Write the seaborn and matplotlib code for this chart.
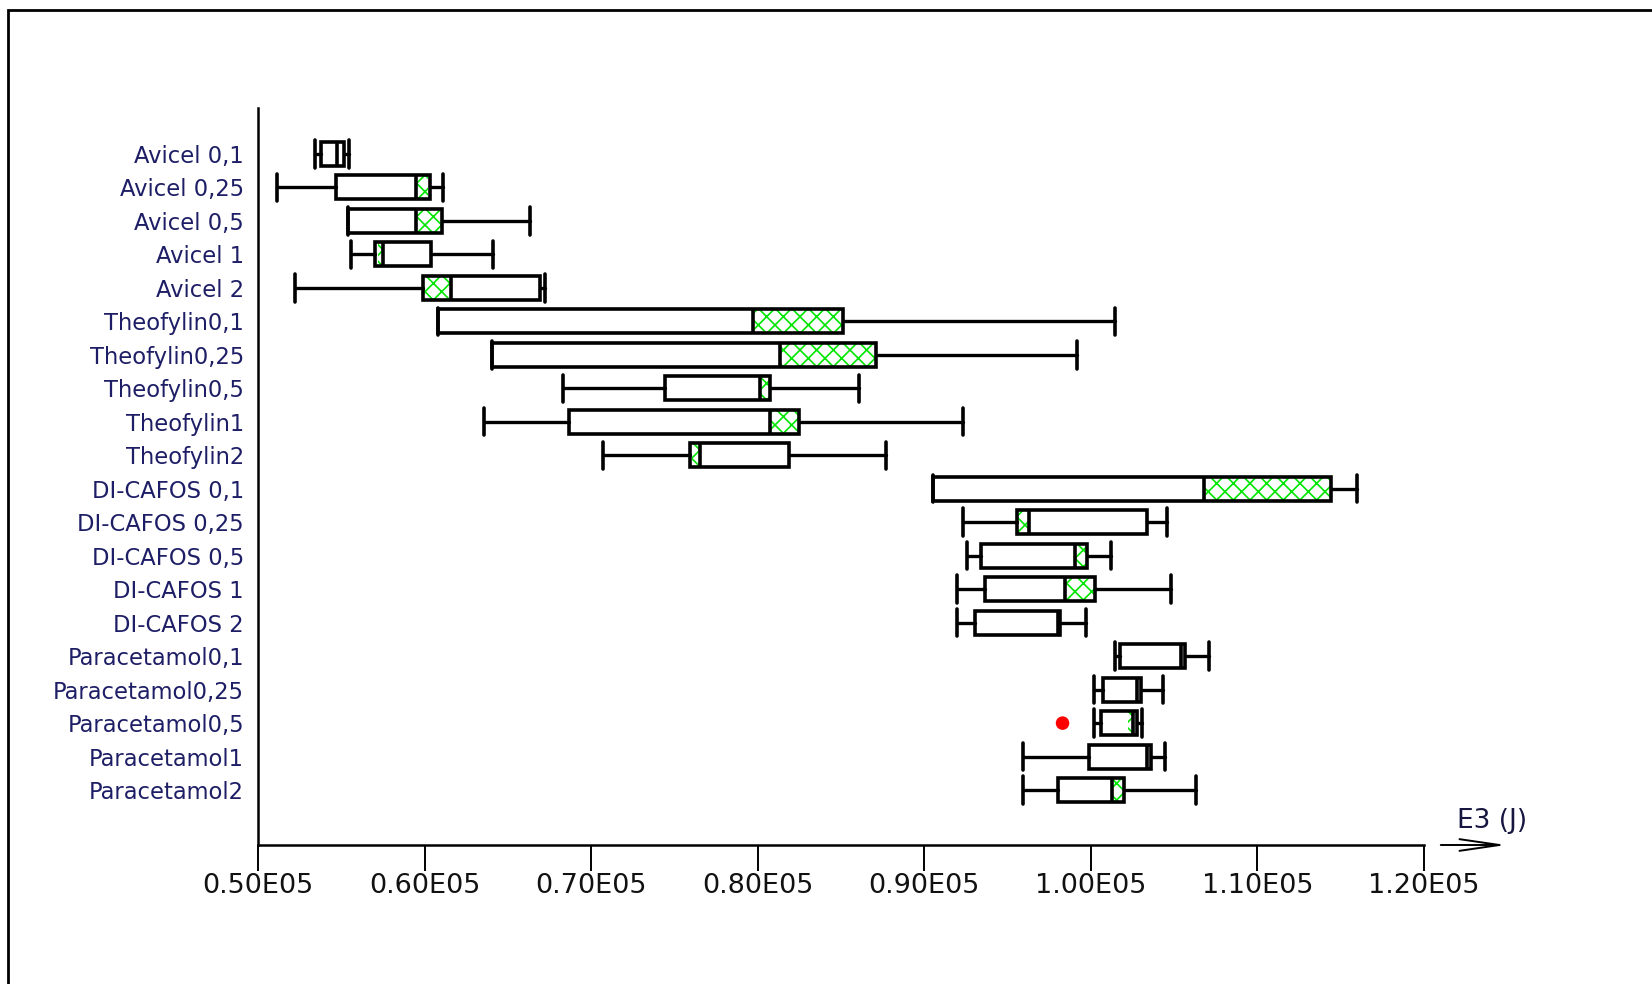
import numpy as np
import pandas as pd
import matplotlib
matplotlib.use("Agg")
import matplotlib.pyplot as plt
import seaborn as sns

# ── data ─────────────────────────────────────────────────────────────────────

labels = [
    "Avicel 0,1", "Avicel 0,25", "Avicel 0,5", "Avicel 1", "Avicel 2",
    "Theofylin0,1", "Theofylin0,25", "Theofylin0,5", "Theofylin1", "Theofylin2",
    "DI-CAFOS 0,1", "DI-CAFOS 0,25", "DI-CAFOS 0,5", "DI-CAFOS 1", "DI-CAFOS 2",
    "Paracetamol0,1", "Paracetamol0,25", "Paracetamol0,5", "Paracetamol1", "Paracetamol2",
]
whislo = [53450, 51120, 55430, 55570, 52250,
          60790, 64060, 68320, 63580, 70730,
          90530, 92300, 92580, 91940, 91940,
          101460, 100200, 100200, 95940, 95940]
q1 = [53780, 54680, 55430, 57040, 59900,
      60790, 64060, 74430, 68670, 75930,
      90530, 95540, 93400, 93660, 93060,
      101740, 100740, 100600, 99900, 98040]
med = [54760, 59500, 59500, 57500, 61570,
       79730, 81340, 80130, 80730, 76530,
       106780, 96280, 99040, 98440, 98000,
       105440, 102800, 102540, 103400, 101280]
q3 = [55140, 60300, 61030, 60390, 66930,
      85150, 87110, 80760, 82500, 81880,
      114390, 103380, 99740, 100240, 98140,
      105640, 103000, 102780, 103600, 102000]
whishi = [55470, 61110, 66340, 64090, 67220,
          101420, 99150, 86090, 92320, 87690,
          115950, 104580, 101200, 104800, 99700,
          107070, 104340, 103090, 104440, 106300]
# green cross-hatched interval inside each box (nan = none)
hatch_lo = [54760, 59500, 59500, 57230, 59900,
            79730, 81340, 80130, 80730, 76040,
            106780, 95580, 99040, 98440, np.nan,
            np.nan, np.nan, 102240, np.nan, 101280]
hatch_hi = [54800, 60180, 61030, 57500, 61570,
            85150, 87110, 80760, 82500, 76530,
            114390, 96280, 99740, 100240, np.nan,
            np.nan, np.nan, 102540, np.nan, 102000]
outlier_label = ["Paracetamol0,5"]
outlier_value = [98300]

x_ticks = [50000, 60000, 70000, 80000, 90000, 100000, 110000, 120000]
x_ticklabels = ["0.50E05", "0.60E05", "0.70E05", "0.80E05",
                "0.90E05", "1.00E05", "1.10E05", "1.20E05"]

LABEL_COLOR = "#1e1e66"
BOX_W = 0.72
CAP_W = 0.82

# ── figure ───────────────────────────────────────────────────────────────────

sns.set_theme(style="white")
plt.rcParams["font.family"] = ["DejaVu Sans"]
plt.rcParams["hatch.linewidth"] = 1.2

fig = plt.figure(figsize=(16.52, 9.84), dpi=100)
ax = fig.add_axes([258 / 1652, 1 - 845 / 984, (1424 - 258) / 1652, (845 - 108) / 984])

pos = np.arange(len(labels))

# hatched segments (drawn first so box outline sits on top)
hl = np.array(hatch_lo, dtype=float)
hh = np.array(hatch_hi, dtype=float)
ok = ~np.isnan(hl)
ax.barh(pos[ok], hh[ok] - hl[ok], left=hl[ok], height=BOX_W,
        color="white", edgecolor="#00e600", hatch="xx", linewidth=0, zorder=2)

stats = [
    dict(label=l, whislo=a, q1=b, med=c, q3=d, whishi=e, fliers=[])
    for l, a, b, c, d, e in zip(labels, whislo, q1, med, q3, whishi)
]
ax.bxp(stats, positions=pos, vert=False, widths=BOX_W, capwidths=CAP_W,
       patch_artist=True, manage_ticks=False,
       boxprops=dict(facecolor="none", edgecolor="black", linewidth=2.6),
       medianprops=dict(color="black", linewidth=2.6),
       whiskerprops=dict(color="black", linewidth=2.4),
       capprops=dict(color="black", linewidth=2.6),
       zorder=3)

# outlier
out_df = pd.DataFrame({"value": outlier_value,
                       "pos": [labels.index(l) for l in outlier_label]})
sns.scatterplot(data=out_df, x="value", y="pos", ax=ax, color="#ff0000",
                s=95, marker="o", edgecolor="none", zorder=4)

ax.set_xlim(50000, 120000)
ax.set_ylim(len(labels) - 1 + 1.64, -1.37)
ax.set_yticks(pos)
ax.set_yticklabels(labels, fontsize=16.3, color=LABEL_COLOR)
ax.set_xticks(x_ticks)
ax.set_xticklabels(x_ticklabels, fontsize=19.5, color="#111111")
ax.set_xlabel("")
ax.set_ylabel("")
ax.tick_params(axis="y", left=False, length=0, pad=10)
ax.tick_params(axis="x", bottom=True, length=19, width=1.4, color="black",
               direction="out", pad=1)

for side in ["top", "right"]:
    ax.spines[side].set_visible(False)
for side in ["left", "bottom"]:
    ax.spines[side].set_color("black")
    ax.spines[side].set_linewidth(1.8)
ax.set_facecolor("white")

# axis arrow and unit label
ax.annotate("", xy=(1509 / 1652, 1 - 845 / 984), xytext=(1438 / 1652, 1 - 845 / 984),
            xycoords="figure fraction", textcoords="figure fraction",
            arrowprops=dict(arrowstyle="->,head_length=2.4,head_width=0.35",
                            color="black", lw=1.4))
fig.text(1492 / 1652, 1 - 821 / 984, "E3 (J)", ha="center", va="center",
         fontsize=19, color="#161640")

# outer frame (top and left edges visible)
fig.patches.append(plt.Rectangle((8 / 1652, -0.1), 1.2, 1 - 10 / 984 + 0.1,
                                 transform=fig.transFigure, fill=False,
                                 edgecolor="black", linewidth=2.0))

fig.savefig("out.png", dpi=100, facecolor="white")
